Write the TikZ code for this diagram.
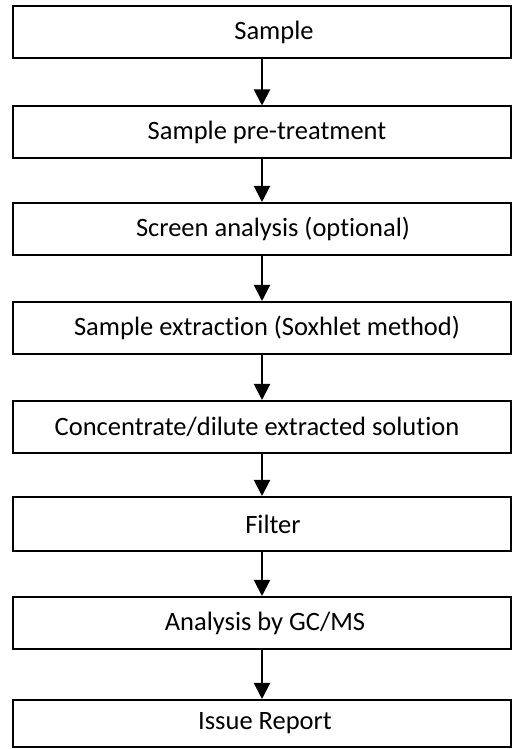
\documentclass[tikz,border=0pt]{standalone}
\usepackage{fontspec}
\setmainfont[Ligatures=NoCommon]{Carlito}
\usetikzlibrary{arrows.meta}
\begin{document}
\begin{tikzpicture}[x=1pt,y=1pt,
  stepbox/.style={draw=black, line width=2pt, minimum width=498pt, minimum height=52pt, inner sep=0pt,
    font=\fontsize{26.5}{31}\selectfont, anchor=center},
  flow/.style={line width=2pt, -{Triangle[width=16pt,length=16pt]}}]
\useasboundingbox (0,0) rectangle (521,749);
\node[stepbox] (s1) at (262,716.5) {\hspace*{24pt}Sample};
\node[stepbox] (s2) at (262,616.5) {\hspace*{10pt}Sample pre-treatment};
\node[stepbox] (s3) at (262,520) {\hspace*{22pt}Screen analysis (optional)};
\node[stepbox] (s4) at (262,421) {\hspace*{10pt}Sample extraction (Soxhlet method)};
\node[stepbox] (s5) at (262,322) {Concentrate/dilute extracted solution\hspace*{10pt}};
\node[stepbox, minimum height=54pt] (s6) at (262,225) {\hspace*{22pt}Filter};
\node[stepbox] (s7) at (262,126) {\hspace*{6pt}Analysis by GC/MS};
\node[stepbox, minimum height=47pt] (s8) at (262,25.5) {\hspace*{6pt}Issue Report};
\draw[flow] (s1.south) -- (s2.north);
\draw[flow] (s2.south) -- (s3.north);
\draw[flow] (s3.south) -- (s4.north);
\draw[flow] (s4.south) -- (s5.north);
\draw[flow] (s5.south) -- (s6.north);
\draw[flow] (s6.south) -- (s7.north);
\draw[flow] (s7.south) -- (s8.north);
\end{tikzpicture}
\end{document}
